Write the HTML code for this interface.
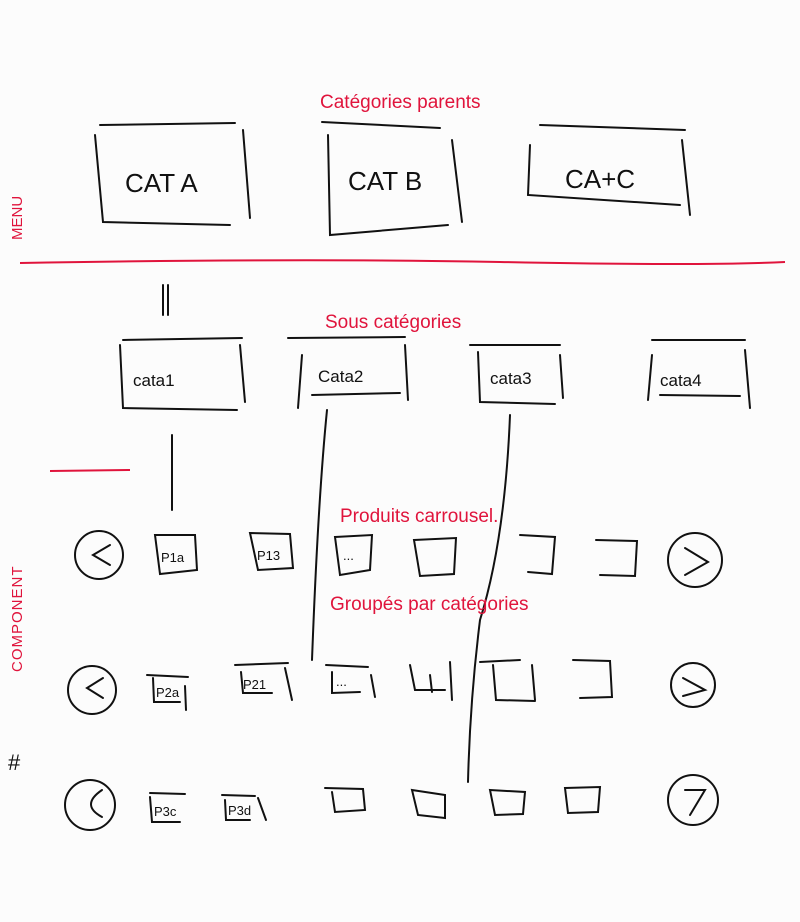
<!DOCTYPE html>
<html><head><meta charset="utf-8"><style>
html,body{margin:0;padding:0;background:#fcfcfc;}
svg{display:block}
text{font-family:"Liberation Sans",sans-serif}
</style></head><body>
<svg width="800" height="922" viewBox="0 0 800 922" xmlns="http://www.w3.org/2000/svg">
<rect width="800" height="922" fill="#fcfcfc"/>
<g fill="none" stroke="#111" stroke-width="2" stroke-linecap="round">
<!-- parent cats -->
<path d="M100 125 L235 123"/><path d="M95 135 L103 222 L230 225"/><path d="M243 130 L250 218"/>
<path d="M322 122 L440 128"/><path d="M328 135 L330 235 L448 225"/><path d="M452 140 L462 222"/>
<path d="M540 125 L685 130"/><path d="M530 145 L528 195 L680 205"/><path d="M682 140 L690 215"/>
<!-- sub cats -->
<path d="M123 340 L242 338"/><path d="M120 345 L123 408 L237 410"/><path d="M240 345 L245 402"/>
<path d="M288 338 L405 337"/><path d="M302 355 L298 408"/><path d="M312 395 L400 393"/><path d="M405 345 L408 400"/>
<path d="M470 345 L560 345"/><path d="M478 352 L480 402 L555 404"/><path d="M560 355 L563 398"/>
<path d="M652 340 L745 340"/><path d="M652 355 L648 400"/><path d="M660 395 L740 396"/><path d="M745 350 L750 408"/>
<!-- connectors -->
<path d="M163 285 L163 315"/><path d="M168 285 L168 315"/>
<path d="M172 435 L172 510"/>
<path d="M327 410 Q318 500 312 660"/>
<path d="M510 415 Q505 540 480 620 Q470 700 468 782"/>
<!-- row1 -->
<circle cx="99" cy="555" r="24"/><path d="M110 545 L93 555 L110 565"/>
<path d="M155 535 L195 535 L197 570 L160 574 Z"/>
<path d="M250 533 L290 534 L293 568 L258 570 Z"/>
<path d="M335 537 L372 535 L370 570 L340 575 Z"/>
<path d="M414 540 L456 538 L454 574 L420 576 Z"/>
<path d="M520 535 L555 537 L552 574 L528 572"/>
<path d="M596 540 L637 541 L635 576 L600 575"/>
<circle cx="695" cy="560" r="27"/><path d="M685 548 L708 562 L685 575"/>
<!-- row2 -->
<circle cx="92" cy="690" r="24"/><path d="M103 678 L87 688 L103 698"/>
<path d="M147 675 L188 677"/><path d="M153 678 L154 702 L180 702"/><path d="M185 686 L186 710"/>
<path d="M235 665 L288 663"/><path d="M241 672 L243 693 L272 693"/><path d="M285 668 L292 700"/>
<path d="M326 665 L368 667"/><path d="M332 672 L332 693 L360 692"/><path d="M371 675 L375 697"/>
<path d="M410 665 L415 690 L445 690"/><path d="M430 675 L432 692"/><path d="M450 662 L452 700"/>
<path d="M480 662 L520 660"/><path d="M493 665 L496 700 L535 701"/><path d="M532 665 L535 700"/>
<path d="M573 660 L610 661 L612 697 L580 698"/>
<circle cx="693" cy="685" r="22"/><path d="M683 678 L705 690 L683 696"/>
<!-- row3 -->
<circle cx="90" cy="805" r="25"/><path d="M102 790 Q80 805 102 817"/>
<path d="M150 793 L185 794"/><path d="M150 797 L152 822 L180 822"/>
<path d="M222 795 L255 796"/><path d="M225 800 L226 820 L250 820"/><path d="M258 798 L266 820"/>
<path d="M325 788 L363 789 L365 810 L335 812 L332 792"/>
<path d="M412 790 L445 795 L445 818 L418 815 Z"/>
<path d="M490 790 L525 792 L523 814 L495 815 Z"/>
<path d="M565 788 L600 787 L598 812 L568 813 Z"/>
<circle cx="693" cy="800" r="25"/><path d="M685 790 L705 790 L690 815"/>
</g>
<!-- red lines -->
<g fill="none" stroke="#e0143c" stroke-width="2">
<path d="M20 263 Q300 258 500 262 T785 262"/>
<path d="M50 471 L130 470"/>
</g>
<!-- black labels -->
<g fill="#111" font-size="26">
<text x="125" y="192">CAT A</text>
<text x="348" y="190">CAT B</text>
<text x="565" y="188">CA+C</text>
</g>
<g fill="#111" font-size="17">
<text x="133" y="386">cata1</text>
<text x="318" y="382">Cata2</text>
<text x="490" y="384">cata3</text>
<text x="660" y="386">cata4</text>
</g>
<g fill="#111" font-size="13">
<text x="161" y="562">P1a</text><text x="257" y="560">P13</text><text x="343" y="560">...</text>
<text x="156" y="697">P2a</text><text x="243" y="689">P21</text><text x="336" y="686">...</text>
<text x="154" y="816">P3c</text><text x="228" y="815">P3d</text>
</g>
<!-- red labels -->
<g fill="#e0143c" font-size="19">
<text x="320" y="108">Catégories parents</text>
<text x="325" y="328">Sous catégories</text>
<text x="340" y="522">Produits carrousel.</text>
<text x="330" y="610">Groupés par catégories</text>
</g>
<g fill="#e0143c" font-size="15">
<text transform="translate(22,240) rotate(-90)">MENU</text>
<text transform="translate(22,672) rotate(-90)" letter-spacing="1">COMPONENT</text>
</g>
<text x="8" y="770" font-size="22" fill="#111">#</text>
</svg>
</body></html>
